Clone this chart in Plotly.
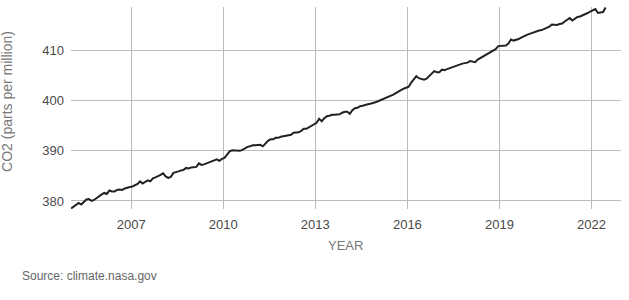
import plotly.graph_objects as go

years = list(range(2005, 2023))

co2_by_year = {
    2005: [378.5, 378.9, 379.3, 379.6, 379.3, 379.9, 380.3, 380.4, 380.0, 380.2, 380.6, 381.0],
    2006: [381.3, 381.6, 381.4, 382.1, 381.9, 381.9, 382.2, 382.3, 382.2, 382.5, 382.7, 382.8],
    2007: [382.9, 383.1, 383.4, 383.9, 383.5, 383.8, 384.1, 383.9, 384.5, 384.7, 384.9, 385.2],
    2008: [385.5, 384.9, 384.6, 384.8, 385.6, 385.7, 385.9, 386.1, 386.2, 386.6, 386.5, 386.7],
    2009: [386.8, 386.8, 387.5, 387.2, 387.3, 387.5, 387.6, 387.9, 388.1, 388.3, 388.0, 388.4],
    2010: [388.6, 389.3, 389.9, 390.1, 390.1, 390.0, 390.0, 390.2, 390.5, 390.8, 390.9, 391.1],
    2011: [391.1, 391.2, 391.2, 390.9, 391.5, 392.0, 392.3, 392.3, 392.6, 392.6, 392.8, 392.9],
    2012: [392.9, 393.1, 393.2, 393.6, 393.6, 393.7, 394.0, 394.4, 394.4, 394.7, 394.9, 395.3],
    2013: [395.6, 396.4, 395.9, 396.5, 396.9, 397.0, 397.2, 397.2, 397.2, 397.3, 397.6, 397.8],
    2014: [397.8, 397.4, 398.1, 398.5, 398.6, 398.9, 399.0, 399.2, 399.3, 399.4, 399.5, 399.7],
    2015: [399.9, 400.1, 400.3, 400.5, 400.7, 401.0, 401.2, 401.5, 401.8, 402.2, 402.4, 402.6],
    2016: [402.8, 403.6, 404.2, 404.9, 404.5, 404.3, 404.2, 404.4, 404.9, 405.3, 405.9, 405.7],
    2017: [405.7, 406.2, 406.1, 406.3, 406.5, 406.7, 406.9, 407.1, 407.3, 407.4, 407.5, 407.6],
    2018: [407.9, 407.8, 407.7, 408.2, 408.5, 408.7, 409.0, 409.3, 409.6, 409.9, 410.3, 410.9],
    2019: [410.9, 410.9, 411.0, 411.4, 412.2, 412.0, 412.1, 412.3, 412.6, 412.9, 413.1, 413.3],
    2020: [413.5, 413.6, 413.8, 414.0, 414.1, 414.3, 414.5, 414.8, 415.2, 415.1, 415.1, 415.3],
    2021: [415.4, 415.8, 416.2, 416.5, 416.0, 416.4, 416.7, 416.8, 417.0, 417.2, 417.5, 417.8],
    2022: [418.0, 418.3, 417.5, 417.6, 417.7, 418.6],
}

x_ticks = [2007, 2010, 2013, 2016, 2019, 2022]
y_ticks = [380, 390, 400, 410]

dates = []
values = []
for y in years:
    for m, v in enumerate(co2_by_year[y]):
        dates.append(y + (m + 0.5) / 12.0)
        values.append(v)

fig = go.Figure()
fig.add_trace(go.Scatter(
    x=dates, y=values, mode="lines",
    line=dict(color="#222222", width=2),
    hoverinfo="skip", showlegend=False,
))

font_family = "Liberation Sans, Arial, sans-serif"

fig.update_layout(
    width=629, height=300,
    margin=dict(l=71, r=8, t=7, b=91),
    paper_bgcolor="white", plot_bgcolor="white",
    font=dict(family=font_family),
    xaxis=dict(
        range=[2005.04, 2022.96],
        tickmode="array", tickvals=x_ticks, ticktext=[str(t) for t in x_ticks],
        showgrid=True, gridcolor="#bdbdbd", gridwidth=1,
        zeroline=False, showline=False, ticks="",
        tickfont=dict(size=13, color="#4a4a4a"),
        ticklabelstandoff=6,
    ),
    yaxis=dict(
        range=[378.4, 418.7],
        tickmode="array", tickvals=y_ticks, ticktext=[str(t) for t in y_ticks],
        showgrid=True, gridcolor="#bdbdbd", gridwidth=1,
        zeroline=False, showline=False, ticks="",
        tickfont=dict(size=13, color="#4a4a4a"),
        ticklabelstandoff=6,
    ),
    annotations=[
        dict(text="CO2 (parts per million)", xref="paper", yref="paper",
             x=-0.116, y=0.531, xanchor="center", yanchor="middle",
             textangle=-90, showarrow=False,
             font=dict(size=14, color="#777777", family=font_family)),
        dict(text="YEAR", xref="paper", yref="paper",
             x=0.499, y=-0.182, xanchor="center", yanchor="middle",
             showarrow=False,
             font=dict(size=13, color="#777777", family=font_family)),
        dict(text="Source: climate.nasa.gov", xref="paper", yref="paper",
             x=-0.0927, y=-0.330, xanchor="left", yanchor="middle",
             showarrow=False,
             font=dict(size=12, color="#666666", family=font_family)),
    ],
)

fig.write_html("out.html")
